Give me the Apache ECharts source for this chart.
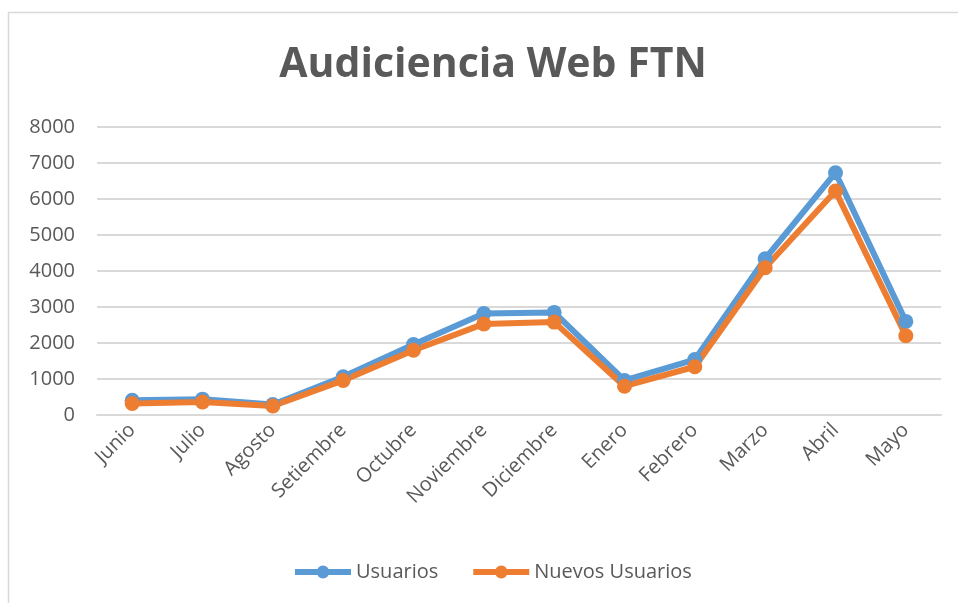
<!DOCTYPE html>
<html><head><meta charset="utf-8">
<script src="https://cdn.jsdelivr.net/npm/echarts@6/dist/echarts.min.js"></script>
<style>html,body{margin:0;padding:0;background:#fff}#c{width:958px;height:603px}</style>
</head><body><div id="c"></div>
<script>
const categories = ['Junio','Julio','Agosto','Setiembre','Octubre','Noviembre','Diciembre','Enero','Febrero','Marzo','Abril','Mayo'];
const usuarios = [410, 440, 290, 1060, 1960, 2820, 2850, 960, 1540, 4340, 6730, 2600];
const nuevosUsuarios = [320, 360, 250, 960, 1800, 2530, 2580, 800, 1340, 4090, 6220, 2200];
const yTicks = {min: 0, max: 8000, interval: 1000};

const chart = echarts.init(document.getElementById('c'));
const font = '"Open Sans", "Noto Sans", sans-serif';
chart.setOption({
  animation: false,
  backgroundColor: '#fff',
  title: {
    text: 'Audiciencia Web FTN', left: 488, top: 40, textAlign: 'center',
    textStyle: {fontFamily: font, fontSize: 41, fontWeight: 'bold', color: '#595959'}
  },
  graphic: [
    {type: 'line', shape: {x1: 8, y1: 12.5, x2: 958, y2: 12.5}, style: {stroke: '#d9d9d9', lineWidth: 1.5}},
    {type: 'line', shape: {x1: 8.5, y1: 12, x2: 8.5, y2: 603}, style: {stroke: '#d9d9d9', lineWidth: 1.5}}
  ],
  legend: {
    bottom: 16, left: 287, itemWidth: 56, itemHeight: 16, itemGap: 32,
    lineStyle: {width: 6},
    textStyle: {fontFamily: font, fontSize: 20, color: '#595959'},
    data: ['Usuarios', 'Nuevos Usuarios']
  },
  grid: {left: 97, right: 17, top: 127, bottom: 188},
  xAxis: {
    type: 'category', data: categories, boundaryGap: true,
    axisLine: {show: true, lineStyle: {color: '#d9d9d9', width: 2}},
    axisTick: {show: false},
    axisLabel: {rotate: 45, fontFamily: font, fontSize: 20, color: '#595959', margin: 12}
  },
  yAxis: {
    type: 'value', min: yTicks.min, max: yTicks.max, interval: yTicks.interval,
    axisLine: {show: false}, axisTick: {show: false},
    axisLabel: {fontFamily: font, fontSize: 20, color: '#595959', margin: 22, formatter: v => String(v)},
    splitLine: {lineStyle: {color: '#d9d9d9', width: 2}}
  },
  series: [
    {name: 'Usuarios', type: 'line', data: usuarios, symbol: 'circle', symbolSize: 15,
     color: '#5b9bd5', lineStyle: {width: 6, color: '#5b9bd5'}, itemStyle: {color: '#5b9bd5'}},
    {name: 'Nuevos Usuarios', type: 'line', data: nuevosUsuarios, symbol: 'circle', symbolSize: 15,
     color: '#ed7d31', lineStyle: {width: 6, color: '#ed7d31'}, itemStyle: {color: '#ed7d31'}}
  ]
});
</script></body></html>
